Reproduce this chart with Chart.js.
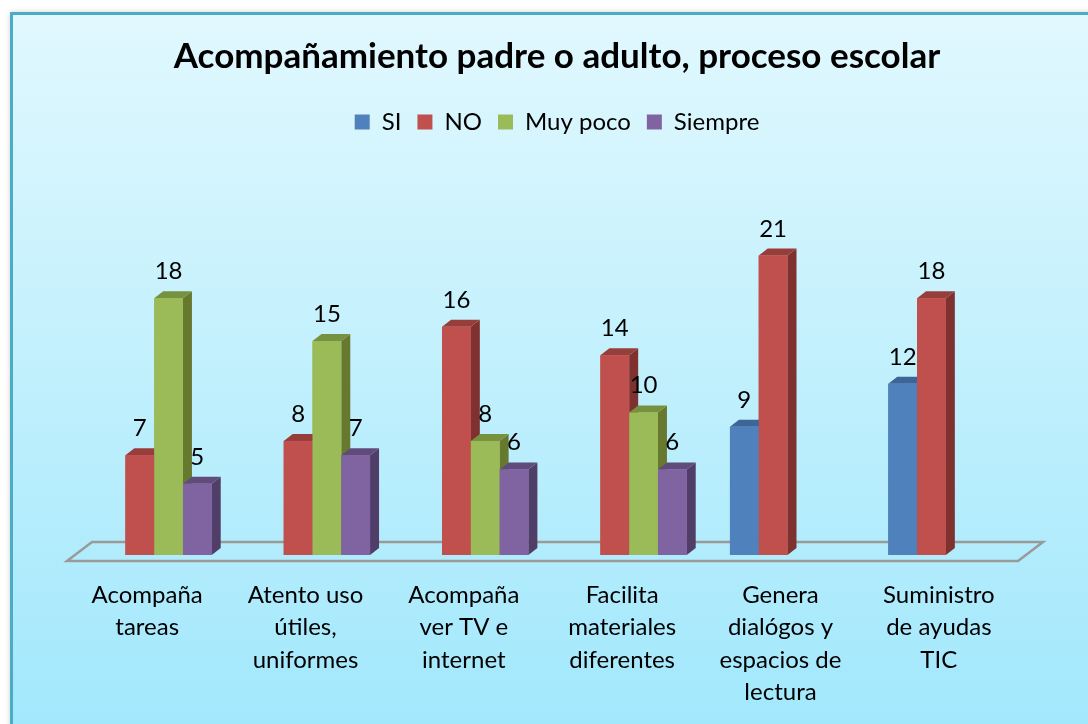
<!DOCTYPE html>
<html>
<head>
<meta charset="utf-8">
<script src="https://cdn.jsdelivr.net/npm/chart.js@4.4.0/dist/chart.umd.min.js"></script>
<style>
  html, body { margin: 0; padding: 0; background: #fff; }
  #contenedor { width: 1088px; height: 724px; }
</style>
</head>
<body>
<div id="contenedor"><canvas id="grafico" width="1088" height="724"></canvas></div>
<script>
// Datos del gráfico
var categorias = [
    ['Acompaña', 'tareas'],
    ['Atento uso', 'útiles,', 'uniformes'],
    ['Acompaña', 'ver TV e', 'internet'],
    ['Facilita', 'materiales', 'diferentes'],
    ['Genera', 'dialógos y', 'espacios de', 'lectura'],
    ['Suministro', 'de ayudas', 'TIC']
];
var nombresSeries = ['SI', 'NO', 'Muy poco', 'Siempre'];
var valoresSI = [null, null, null, null, 9, 12];
var valoresNO = [7, 8, 16, 14, 21, 18];
var valoresMuyPoco = [18, 15, 8, 10, null, null];
var valoresSiempre = [5, 7, 6, 6, null, null];

// Colores: cara frontal, tapa superior y lateral
var coloresFrente = ['#4f81bd', '#c0504d', '#9bbb59', '#8064a2'];
var coloresTapa = ['#3d6597', '#973e3b', '#77923f', '#614b7d'];
var coloresLado = ['#385d8a', '#7e312f', '#66792f', '#503e69'];

var Y_MAX = 28.82;         // rango del eje vertical (oculto)
var PROF_X = 9, PROF_Y = 7; // profundidad del efecto 3D
var DESPLAZAMIENTO = 7;    // las barras se ven un poco a la derecha de las etiquetas

Chart.defaults.font.family = 'Lato, "Open Sans", sans-serif';
Chart.defaults.color = '#000';

// Fondo degradado con borde, como el recuadro de Excel
var pluginFondo = {
    id: 'fondo',
    beforeDraw: function(chart) {
        var ctx = chart.ctx, w = chart.width, h = chart.height;
        ctx.save();
        ctx.fillStyle = '#ffffff';
        ctx.fillRect(0, 0, w, h);
        var grad = ctx.createLinearGradient(0, 13, 0, h);
        grad.addColorStop(0, '#e1f8fe');
        grad.addColorStop(1, '#a2e8fc');
        ctx.shadowColor = 'rgba(0,0,0,0.25)';
        ctx.shadowBlur = 6;
        ctx.fillStyle = grad;
        ctx.fillRect(11, 13, w + 20, h + 20);
        ctx.shadowColor = 'transparent';
        ctx.strokeStyle = '#4bacc6';
        ctx.lineWidth = 3;
        ctx.strokeRect(11.5, 13.5, w + 20, h + 20);
        ctx.restore();
    }
};

// Barras en 3D: piso, caras laterales y etiquetas de valor
var pluginBarras3D = {
    id: 'barras3d',
    beforeDatasetsDraw: function(chart) {
        var ctx = chart.ctx, area = chart.chartArea;
        ctx.save();
        ctx.translate(DESPLAZAMIENTO, 0);
        // piso
        var base = area.bottom;
        ctx.beginPath();
        ctx.moveTo(area.left + 17, base - 13);
        ctx.lineTo(area.right + 18, base - 13);
        ctx.lineTo(area.right - 7, base + 6);
        ctx.lineTo(area.left - 8, base + 6);
        ctx.closePath();
        ctx.strokeStyle = '#9a9a9a';
        ctx.lineWidth = 2.5;
        ctx.stroke();
    },
    afterDatasetsDraw: function(chart) {
        var ctx = chart.ctx;
        var etiquetas = [];
        chart.data.datasets.forEach(function(ds, d) {
            var meta = chart.getDatasetMeta(d);
            meta.data.forEach(function(el, i) {
                var v = ds.data[i];
                if (v === null || v === undefined) return;
                var x0 = el.x - el.width / 2, x1 = el.x + el.width / 2;
                var top = el.y, base = el.base;
                // lateral
                ctx.beginPath();
                ctx.moveTo(x1, top);
                ctx.lineTo(x1 + PROF_X, top - PROF_Y);
                ctx.lineTo(x1 + PROF_X, base - PROF_Y);
                ctx.lineTo(x1, base);
                ctx.closePath();
                ctx.fillStyle = coloresLado[d];
                ctx.fill();
                // tapa
                ctx.beginPath();
                ctx.moveTo(x0, top);
                ctx.lineTo(x0 + PROF_X, top - PROF_Y);
                ctx.lineTo(x1 + PROF_X, top - PROF_Y);
                ctx.lineTo(x1, top);
                ctx.closePath();
                ctx.fillStyle = coloresTapa[d];
                ctx.fill();
                // frente
                ctx.fillStyle = coloresFrente[d];
                ctx.fillRect(x0, top, x1 - x0, base - top);
                etiquetas.push({ x: el.x, y: top, texto: String(v) });
            });
        });
        ctx.fillStyle = '#000';
        ctx.font = '24px Lato, "Open Sans", sans-serif';
        ctx.textAlign = 'center';
        ctx.textBaseline = 'alphabetic';
        etiquetas.forEach(function(e) {
            ctx.fillText(e.texto, e.x, e.y - 19);
        });
        ctx.restore();
    }
};

var series = [valoresSI, valoresNO, valoresMuyPoco, valoresSiempre];

var grafico = new Chart(document.getElementById('grafico').getContext('2d'), {
    type: 'bar',
    data: {
        labels: categorias,
        datasets: series.map(function(valores, i) {
            return {
                label: nombresSeries[i],
                data: valores,
                backgroundColor: coloresFrente[i],
                borderWidth: 0,
                categoryPercentage: 0.727,
                barPercentage: 1.0,
                clip: false
            };
        })
    },
    options: {
        responsive: false,
        animation: false,
        devicePixelRatio: 1,
        layout: { padding: { left: 68, right: 42, top: 0, bottom: -9 } },
        plugins: {
            title: {
                display: true,
                text: 'Acompañamiento padre o adulto, proceso escolar',
                font: { size: 35, weight: 'bold' },
                color: '#000',
                padding: { top: 36, bottom: 16 }
            },
            legend: {
                position: 'top',
                labels: {
                    boxWidth: 15,
                    boxHeight: 15,
                    padding: 16,
                    font: { size: 24 },
                    color: '#000'
                }
            },
            tooltip: { enabled: false }
        },
        scales: {
            x: {
                grid: { display: false, drawTicks: false, tickLength: 0 },
                border: { display: false },
                ticks: {
                    font: { size: 24, lineHeight: 32.5 / 24 },
                    color: '#000',
                    padding: 24,
                    maxRotation: 0,
                    autoSkip: false
                }
            },
            y: {
                position: 'right',
                min: 0,
                max: Y_MAX,
                grid: { display: false, drawTicks: false },
                border: { display: false },
                ticks: { display: false },
                afterFit: function(scale) { scale.width = 28; }
            }
        }
    },
    plugins: [pluginFondo, pluginBarras3D]
});
</script>
</body>
</html>
